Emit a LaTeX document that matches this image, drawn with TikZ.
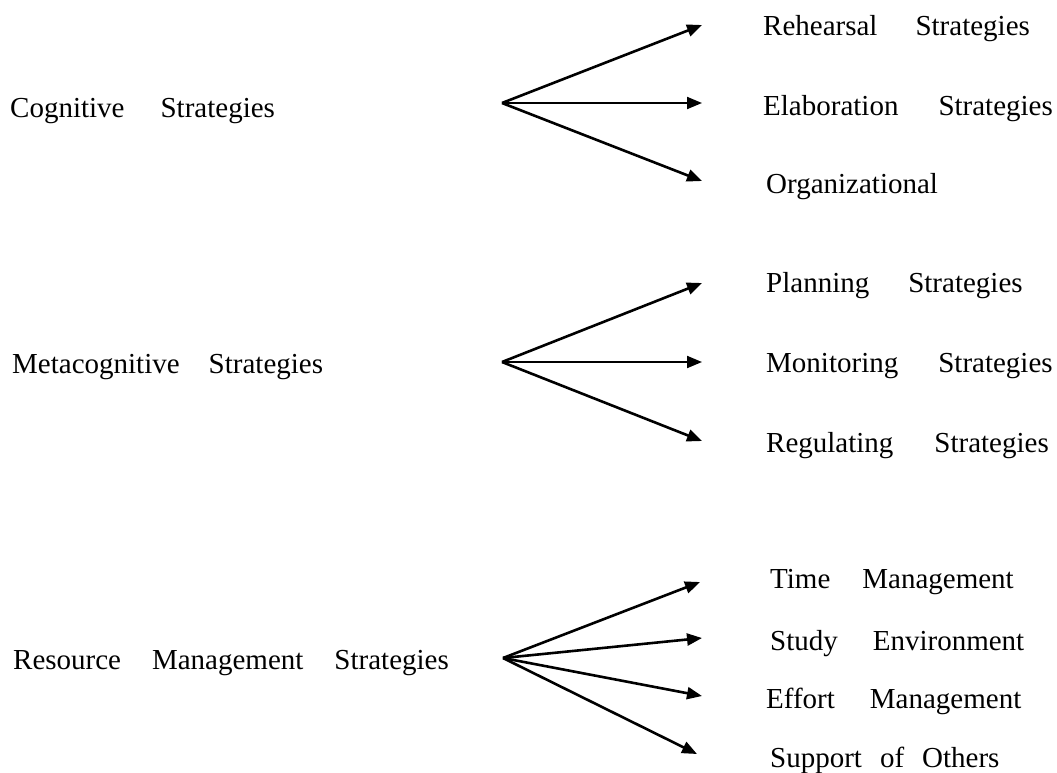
\documentclass[tikz,border=0pt]{standalone}
\usepackage{fontspec}
\setmainfont{Liberation Serif}
\usetikzlibrary{arrows.meta}

\tikzset{
	lbl/.style={anchor=base west, inner sep=0pt, font=\fontsize{29}{34}\selectfont},
	wsp/.style={execute at begin node={\spaceskip=#1\relax}},
	branch/.style={line width=2.6pt, -{Triangle[length=15pt,width=12pt]}}
}

\begin{document}
\begin{tikzpicture}[x=1pt,y=-1pt]
	\useasboundingbox (0,0) rectangle (1057,772);
	% left column
	\node[lbl,wsp=36pt] (cog) at (10,117) {Cognitive Strategies};
	\node[lbl,wsp=29pt] (meta) at (12,373) {Metacognitive Strategies};
	\node[lbl,wsp=31pt] (res) at (13,669) {Resource Management Strategies};
	% right column
	\node[lbl,wsp=38pt] (reh) at (763,35) {Rehearsal Strategies};
	\node[lbl,wsp=40pt] (ela) at (763,115) {Elaboration Strategies};
	\node[lbl] (org) at (766,193) {Organizational};
	\node[lbl,wsp=39pt] (pla) at (766,292) {Planning Strategies};
	\node[lbl,wsp=40pt] (mon) at (766,372) {Monitoring Strategies};
	\node[lbl,wsp=41pt] (reg) at (766,452) {Regulating Strategies};
	\node[lbl,wsp=32pt] (tim) at (770,588) {Time Management};
	\node[lbl,wsp=35pt] (stu) at (770,650) {Study Environment};
	\node[lbl,wsp=35pt] (eff) at (766,708) {Effort Management};
	\node[lbl,wsp=18pt] (sup) at (770,767) {Support of Others};
	% fan points
	\coordinate (cogF) at (502,103);
	\coordinate (metaF) at (502,362);
	\coordinate (resF) at (503,658);
	\coordinate (rehT) at (702,25);
	\coordinate (elaT) at (702,103);
	\coordinate (orgT) at (702,181);
	\coordinate (plaT) at (702,283);
	\coordinate (monT) at (702,362);
	\coordinate (regT) at (702,441);
	\coordinate (timT) at (700,582);
	\coordinate (stuT) at (702,638);
	\coordinate (effT) at (702,696);
	\coordinate (supT) at (697,754);
	\foreach \a/\b in {cogF/rehT, cogF/orgT, metaF/plaT, metaF/regT, resF/timT, resF/stuT, resF/effT, resF/supT}
		\draw[branch] (\a) -- (\b);
	\draw[branch, line width=2pt] (cogF) -- (elaT);
	\draw[branch, line width=2pt] (metaF) -- (monT);
\end{tikzpicture}
\end{document}
